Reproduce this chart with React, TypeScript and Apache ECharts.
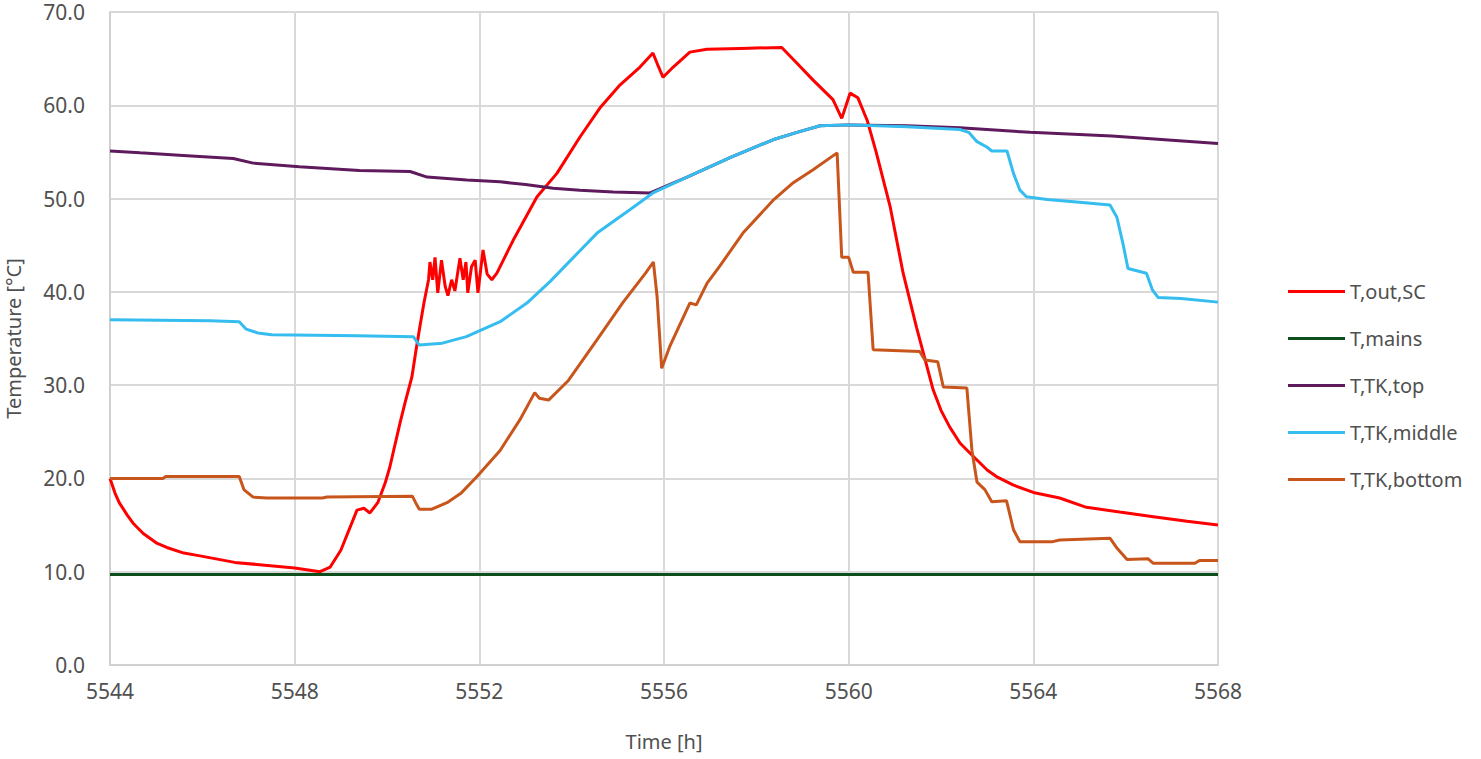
import React, { useEffect, useRef } from "react";
import * as echarts from "echarts";

const xTicks = [5544, 5548, 5552, 5556, 5560, 5564, 5568];
const yTicks = [0, 10, 20, 30, 40, 50, 60, 70];

const outT = [5544.0, 5544.11, 5544.2, 5544.37, 5544.5, 5544.72, 5545.0, 5545.23, 5545.6, 5545.95, 5546.7, 5548.0, 5548.55, 5548.77, 5549.0, 5549.35, 5549.5, 5549.63, 5549.8, 5549.96, 5550.06, 5550.28, 5550.39, 5550.54, 5550.63, 5550.71, 5550.8, 5550.9, 5550.93, 5550.99, 5551.04, 5551.1, 5551.18, 5551.26, 5551.32, 5551.4, 5551.47, 5551.58, 5551.65, 5551.71, 5551.75, 5551.83, 5551.91, 5551.97, 5552.08, 5552.17, 5552.27, 5552.38, 5552.73, 5553.25, 5553.68, 5554.18, 5554.61, 5555.05, 5555.48, 5555.76, 5555.85, 5555.98, 5556.2, 5556.56, 5556.93, 5557.65, 5558.55, 5558.88, 5559.23, 5559.66, 5559.85, 5560.03, 5560.2, 5560.4, 5560.6, 5560.9, 5561.18, 5561.47, 5561.83, 5562.0, 5562.19, 5562.41, 5562.63, 5563.0, 5563.2, 5563.56, 5564.0, 5564.57, 5565.15, 5565.87, 5566.6, 5567.33, 5568.0];
const outV = [20.0, 18.4, 17.4, 16.1, 15.2, 14.1, 13.1, 12.6, 12.0, 11.7, 11.0, 10.4, 10.0, 10.5, 12.3, 16.6, 16.8, 16.3, 17.4, 19.5, 21.2, 25.9, 28.1, 30.9, 33.8, 36.2, 38.8, 41.3, 43.2, 41.3, 43.7, 39.9, 43.4, 40.6, 39.6, 41.3, 40.1, 43.6, 41.3, 43.2, 39.9, 42.7, 43.4, 39.9, 44.5, 41.9, 41.3, 42.0, 45.5, 50.2, 52.7, 56.6, 59.7, 62.2, 64.1, 65.6, 64.5, 63.0, 64.1, 65.7, 66.0, 66.1, 66.2, 64.5, 62.7, 60.6, 58.6, 61.3, 60.8, 58.4, 54.9, 49.1, 42.0, 36.2, 29.5, 27.3, 25.5, 23.8, 22.7, 20.9, 20.2, 19.3, 18.5, 17.9, 16.9, 16.4, 15.9, 15.4, 15.0];

const mainsT = [5544, 5568];
const mainsV = [9.7, 9.7];

const topT = [5544.0, 5544.65, 5545.67, 5546.67, 5547.1, 5548.1, 5549.4, 5550.5, 5550.87, 5551.73, 5552.45, 5553.0, 5553.6, 5554.18, 5554.9, 5555.7, 5556.5, 5557.43, 5558.36, 5558.88, 5559.38, 5560.0, 5561.26, 5562.41, 5563.93, 5565.7, 5568.0];
const topV = [55.1, 54.9, 54.6, 54.3, 53.8, 53.4, 53.0, 52.9, 52.3, 52.0, 51.8, 51.5, 51.1, 50.9, 50.7, 50.6, 52.3, 54.4, 56.3, 57.1, 57.8, 57.9, 57.8, 57.6, 57.1, 56.7, 55.9];

const midT = [5544.0, 5546.17, 5546.8, 5546.95, 5547.2, 5547.5, 5549.35, 5550.57, 5550.7, 5551.2, 5551.72, 5552.45, 5553.03, 5553.53, 5554.55, 5555.26, 5555.76, 5556.5, 5557.43, 5558.36, 5558.88, 5559.38, 5560.0, 5561.26, 5562.41, 5562.6, 5562.78, 5563.0, 5563.1, 5563.43, 5563.57, 5563.71, 5563.85, 5564.3, 5565.0, 5565.66, 5565.81, 5565.94, 5566.05, 5566.45, 5566.58, 5566.7, 5567.2, 5568.0];
const midV = [37.0, 36.9, 36.8, 36.0, 35.6, 35.4, 35.3, 35.2, 34.3, 34.5, 35.2, 36.8, 38.8, 41.1, 46.3, 48.8, 50.6, 52.3, 54.4, 56.3, 57.1, 57.8, 57.9, 57.7, 57.4, 57.1, 56.1, 55.5, 55.1, 55.1, 52.7, 50.9, 50.2, 49.9, 49.6, 49.3, 48.0, 45.2, 42.5, 42.0, 40.2, 39.4, 39.3, 38.9];

const botT = [5544.0, 5545.15, 5545.2, 5546.8, 5546.9, 5547.1, 5547.4, 5548.6, 5548.7, 5550.55, 5550.62, 5550.7, 5550.97, 5551.3, 5551.6, 5551.95, 5552.45, 5552.88, 5553.2, 5553.3, 5553.5, 5553.93, 5554.54, 5555.1, 5555.6, 5555.77, 5555.85, 5555.95, 5556.12, 5556.56, 5556.7, 5556.93, 5557.2, 5557.71, 5558.36, 5558.8, 5559.23, 5559.75, 5559.85, 5560.0, 5560.1, 5560.42, 5560.53, 5561.54, 5561.65, 5561.93, 5562.05, 5562.56, 5562.67, 5562.78, 5562.95, 5563.1, 5563.42, 5563.57, 5563.71, 5564.4, 5564.57, 5565.66, 5565.8, 5566.03, 5566.48, 5566.6, 5567.5, 5567.6, 5568.0];
const botV = [20.0, 20.0, 20.2, 20.2, 18.8, 18.0, 17.9, 17.9, 18.0, 18.1, 17.4, 16.7, 16.7, 17.4, 18.4, 20.2, 23.0, 26.3, 29.2, 28.6, 28.4, 30.5, 34.8, 38.8, 42.0, 43.2, 39.5, 31.8, 34.1, 38.8, 38.6, 40.9, 42.7, 46.3, 49.8, 51.7, 53.1, 54.9, 43.7, 43.7, 42.1, 42.1, 33.8, 33.6, 32.7, 32.5, 29.8, 29.7, 23.0, 19.6, 18.8, 17.5, 17.6, 14.5, 13.2, 13.2, 13.4, 13.6, 12.6, 11.3, 11.4, 10.9, 10.9, 11.2, 11.2];

const seriesNames = ["T,out,SC", "T,mains", "T,TK,top", "T,TK,middle", "T,TK,bottom"];
const seriesColors = ["#ff0000", "#0e4d1c", "#5e1a5c", "#35bdf0", "#c8561c"];
const seriesT = [outT, mainsT, topT, midT, botT];
const seriesV = [outV, mainsV, topV, midV, botV];

const FONT = "'Noto Sans', 'Liberation Sans', sans-serif";
const TEXT = "#505050";

export default function App() {
  const ref = useRef<HTMLDivElement>(null);
  useEffect(() => {
    if (!ref.current) return;
    const chart = echarts.init(ref.current, null, { renderer: "svg" });
    chart.setOption({
      animation: false,
      backgroundColor: "#ffffff",
      textStyle: { fontFamily: FONT },
      grid: { left: 110, right: 263, top: 12, bottom: 94, containLabel: false, outerBoundsMode: "none" },
      legend: {
        orient: "vertical",
        left: 1283,
        top: 276,
        icon: "rect",
        itemWidth: 57,
        itemHeight: 3,
        itemGap: 26,
        textStyle: { fontFamily: FONT, fontSize: 20, color: TEXT, lineHeight: 21 },
        data: seriesNames,
      },
      xAxis: {
        type: "value",
        min: xTicks[0],
        max: xTicks[xTicks.length - 1],
        interval: 4,
        name: "Time [h]",
        nameLocation: "middle",
        nameGap: 66,
        nameTextStyle: { fontFamily: FONT, fontSize: 20, color: TEXT },
        axisLine: { show: true, lineStyle: { color: "#d0d0d0", width: 2 } },
        axisTick: { show: false },
        axisLabel: { fontFamily: FONT, fontSize: 21, lineHeight: 18, color: TEXT, margin: 17, formatter: (v: number) => String(v) },
        splitLine: { show: true, lineStyle: { color: "#d9d9d9", width: 2 } },
      },
      yAxis: {
        type: "value",
        min: yTicks[0],
        max: yTicks[yTicks.length - 1],
        interval: 10,
        name: "Temperature [°C]",
        nameLocation: "middle",
        nameGap: 87,
        nameTextStyle: { fontFamily: FONT, fontSize: 20, color: TEXT },
        axisLine: { show: true, lineStyle: { color: "#d0d0d0", width: 2 } },
        axisTick: { show: false },
        axisLabel: { fontFamily: FONT, fontSize: 21, lineHeight: 18, color: TEXT, margin: 25, formatter: (v: number) => v.toFixed(1) },
        splitLine: { show: true, lineStyle: { color: "#d9d9d9", width: 2 } },
      },
      series: seriesNames.map((name, i) => ({
        name,
        type: "line",
        showSymbol: false,
        symbol: "none",
        color: seriesColors[i],
        itemStyle: { color: seriesColors[i] },
        lineStyle: { color: seriesColors[i], width: 3 },
        data: seriesT[i].map((t, j) => [t, seriesV[i][j]]),
      })),
    });
    return () => chart.dispose();
  }, []);
  return (
    <div
      ref={ref}
      style={{ position: "fixed", left: 0, top: 0, width: 1481, height: 759, background: "#fff" }}
    />
  );
}
